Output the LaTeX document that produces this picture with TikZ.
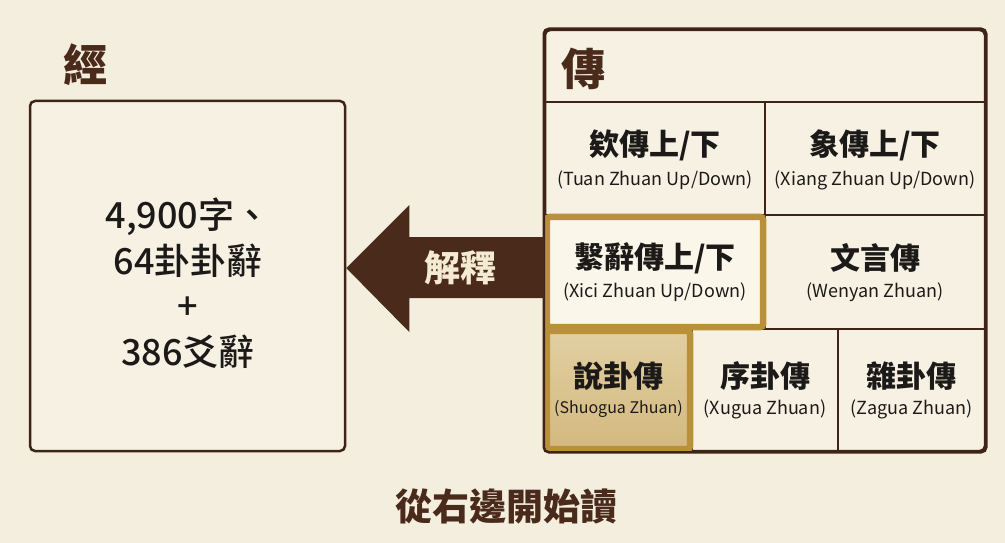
\documentclass[tikz,border=0pt]{standalone}
\usepackage{fontspec}
\setmainfont{Noto Sans CJK TC}
\newfontfamily\medfont{Noto Sans CJK TC}[UprightFont={* Medium}]
\usetikzlibrary{calc}
\definecolor{bg}{HTML}{F4EEDE}
\definecolor{cellbg}{HTML}{F6F1E3}
\definecolor{linec}{HTML}{3E2416}
\definecolor{brownc}{HTML}{4A2A1A}
\definecolor{goldc}{HTML}{B8913A}
\definecolor{goldtop}{HTML}{E2CFA2}
\definecolor{goldbot}{HTML}{D2B97E}
\definecolor{xicifill}{HTML}{FAF6EA}
\definecolor{creamtxt}{HTML}{F5EAD2}
\definecolor{txt}{HTML}{1C1A18}
\tikzset{
  bigbox/.style={draw=linec, line width=2.5pt, rounded corners=5pt, fill=cellbg, inner sep=0pt},
  cellbox/.style={draw=linec, line width=2.2pt, inner sep=0pt},
  cn/.style={font=\fontsize{30}{34}\selectfont\bfseries, text=txt, inner sep=0pt},
  en/.style={font=\fontsize{18}{20}\selectfont, text=txt, inner sep=0pt},
  title/.style={font=\fontsize{44}{48}\selectfont\bfseries, text=brownc, inner sep=0pt},
  goldframe/.style={draw=goldc, line width=6.5pt, rounded corners=3pt},
}
\begin{document}
\begin{tikzpicture}[x=1pt,y=-1pt]
\fill[bg] (0,0) rectangle (1005,543);
\useasboundingbox (0,0) rectangle (1005,543);

% left box (Jing)
\node[title] (jingtitle) at (85,65) {經};
\node[bigbox, minimum width=315pt, minimum height=350pt] (jing) at (187.5,276) {};
\node[font=\fontsize{36}{45.5}\selectfont\medfont, text=txt, align=center, inner sep=0pt] (jingtxt) at (188,283) {4,900字、\\64卦卦辭\\+\\386爻辭};

% right box (Zhuan)
\node[bigbox, minimum width=440pt, minimum height=421pt] (zhuan) at (765,240.5) {};
\node[title] (zhuantitle) at (583.5,68.5) {傳};

% cells
\node[cellbox, minimum width=220pt, minimum height=113pt] (tuan) at (655,158.5) {};
\node[cellbox, minimum width=220pt, minimum height=113pt] (xiang) at (875,158.5) {};
\node[cellbox, minimum width=220pt, minimum height=114pt] (xici) at (655,272) {};
\node[cellbox, minimum width=220pt, minimum height=114pt] (wenyan) at (875,272) {};
\node[cellbox, minimum width=147pt, minimum height=122pt] (shuogua) at (618.5,390) {};
\node[cellbox, minimum width=146pt, minimum height=122pt] (xugua) at (765,390) {};
\node[cellbox, minimum width=147pt, minimum height=122pt] (zagua) at (911.5,390) {};

% highlights
\fill[xicifill] ($(xici.north west)+(3,3)$) rectangle ($(xici.south east)+(-3,-3)$);
\draw[goldframe] ($(xici.north west)+(3,3)$) rectangle ($(xici.south east)+(-3,-3)$);
\shade[top color=goldtop, bottom color=goldbot] ($(shuogua.north west)+(3,3)$) rectangle ($(shuogua.south east)+(-3,-3)$);
\draw[goldframe] ($(shuogua.north west)+(3,3)$) rectangle ($(shuogua.south east)+(-3,-3)$);
\draw[linec, line width=2.5pt, rounded corners=5pt] (zhuan.north west) rectangle (zhuan.south east);

% cell texts
\node[cn] (tuan-c) at ($(tuan)+(0,-13.5)$) {欸傳上/下};
\node[en] (tuan-e) at ($(tuan)+(0,21.5)$) {(Tuan Zhuan Up/Down)};
\node[cn] (xiang-c) at ($(xiang)+(0,-13.5)$) {象傳上/下};
\node[en] (xiang-e) at ($(xiang)+(0,21.5)$) {(Xiang Zhuan Up/Down)};
\node[cn] (xici-c) at ($(xici)+(0,-14)$) {繫辭傳上/下};
\node[en] (xici-e) at ($(xici)+(0,20)$) {(Xici Zhuan Up/Down)};
\node[cn] (wenyan-c) at ($(wenyan)+(0,-14)$) {文言傳};
\node[en] (wenyan-e) at ($(wenyan)+(0,20)$) {(Wenyan Zhuan)};
\node[cn] (shuogua-c) at ($(shuogua)+(0,-14)$) {說卦傳};
\node[en, font=\fontsize{16}{18}\selectfont] (shuogua-e) at ($(shuogua)+(0,19)$) {(Shuogua Zhuan)};
\node[cn] (xugua-c) at ($(xugua)+(0,-14)$) {序卦傳};
\node[en] (xugua-e) at ($(xugua)+(0,19)$) {(Xugua Zhuan)};
\node[cn] (zagua-c) at ($(zagua)+(0,-14)$) {雜卦傳};
\node[en] (zagua-e) at ($(zagua)+(0,19)$) {(Zagua Zhuan)};

% arrow from Zhuan to Jing
\coordinate (atip) at (jing.east |- 0,268);
\coordinate (atail) at (zhuan.west |- 0,268);
\fill[brownc] (atip) -- ($(atip)+(63,-63)$) -- ($(atip)+(63,-31)$) -- ($(atail)+(0,-31)$)
  -- ($(atail)+(0,30)$) -- ($(atip)+(63,30)$) -- ($(atip)+(63,64)$) -- cycle;
\node[font=\fontsize{36}{40}\selectfont\bfseries, text=creamtxt, inner sep=0pt] (jieshi) at (460,267.5) {解釋};

% bottom caption
\node[font=\fontsize{37}{40}\selectfont\bfseries, text=brownc, inner sep=0pt] (caption) at (506.5,506.5) {從右邊開始讀};
\end{tikzpicture}
\end{document}
